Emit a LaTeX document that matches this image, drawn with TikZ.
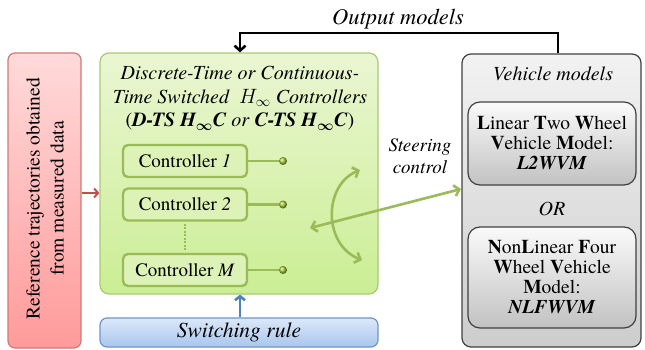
\documentclass[tikz,border=0pt]{standalone}
\usepackage{amsmath}
\usepackage{fontspec}
\setmainfont{TeX Gyre Termes}
\usetikzlibrary{arrows.meta,shapes.geometric}
\definecolor{redfillT}{HTML}{FFDADA}
\definecolor{redfillB}{HTML}{FF9A9A}
\definecolor{redline}{HTML}{D07A78}
\definecolor{redarrow}{HTML}{C0504D}
\definecolor{grnT}{HTML}{EAF6D2}
\definecolor{grnB}{HTML}{CBEE94}
\definecolor{grnline}{HTML}{9BBB59}
\definecolor{grnline2}{HTML}{A9C878}
\definecolor{grndot}{HTML}{A6CC3A}
\definecolor{bluT}{HTML}{DCE8F8}
\definecolor{bluB}{HTML}{A8C6EE}
\definecolor{bluline}{HTML}{6F95C8}
\definecolor{bluarrow}{HTML}{4F81BD}
\definecolor{gryT}{HTML}{F2F2F2}
\definecolor{gryB}{HTML}{CDCDCD}
\definecolor{gryline}{HTML}{404040}
\definecolor{inT}{HTML}{FAFAFA}
\definecolor{inB}{HTML}{C2C2C2}
\tikzset{
  redbox/.style={draw=redline,line width=1.2pt,rounded corners=7pt,top color=redfillT,bottom color=redfillB,minimum width=73pt,minimum height=295pt,inner sep=0pt},
  grnbox/.style={draw=grnline2,line width=1.2pt,rounded corners=9pt,top color=grnT,bottom color=grnB,minimum width=278pt,minimum height=241pt,inner sep=0pt},
  ctrlbox/.style={draw=grnline,line width=2.4pt,rounded corners=5pt,fill=grnT!55!grnB,minimum width=124pt,minimum height=32pt,inner sep=0pt,font=\fontsize{19}{22}\selectfont},
  blubox/.style={draw=bluline,line width=1.2pt,rounded corners=7pt,top color=bluT,bottom color=bluB,minimum width=278pt,minimum height=29pt,inner sep=0pt,font=\fontsize{21.5}{24}\selectfont\itshape},
  grybox/.style={draw=gryline,line width=1.2pt,rounded corners=9pt,top color=gryT,bottom color=gryB,minimum width=179pt,minimum height=293pt,inner sep=0pt},
  innbox/.style={draw=gryline,line width=1.2pt,rounded corners=12pt,top color=inT,bottom color=inB,minimum width=168pt,inner sep=0pt,align=center,font=\fontsize{19.5}{20}\selectfont},
  dotball/.style={circle,inner sep=0pt,minimum size=8pt,ball color=grndot},
  grnarrows/.style={draw=grnline,line width=2.6pt,{Straight Barb[length=5pt,width=11pt]}-{Straight Barb[length=5pt,width=11pt]}},
  ctrlline/.style={draw=grnline,line width=2.4pt},
  txt/.style={inner sep=0pt,align=center}
}
\begin{document}
\begin{tikzpicture}[x=1pt,y=-1pt]
\useasboundingbox (0,0) rectangle (645,350);
% boxes
\node[redbox] (ref) at (44.5,200.5) {};
\node[txt,rotate=90,font=\fontsize{19.5}{24}\selectfont] (reftxt) at (45,198.5) {Reference trajectories obtained\\from measured data};
\node[grnbox] (ctrl) at (239,173.5) {};
\node[txt,font=\fontsize{20}{23.5}\selectfont\itshape] (title) at (240,98.5)
  {Discrete-Time or Continuous-\\Time Switched \ $H_\infty$ Controllers\\\upshape(\textbf{\textit{D-TS H$_{\boldsymbol\infty}$C}} \textit{or} \textbf{\textit{C-TS H$_{\boldsymbol\infty}$C}})};
\node[ctrlbox] (c1) at (185,161) {Controller \textit{1}};
\node[ctrlbox] (c2) at (185,204.5) {Controller \textit{2}};
\node[ctrlbox] (cm) at (185,270) {Controller \textit{M}};
\node[dotball] (d1) at (283,161) {};
\node[dotball] (d2) at (283,204.5) {};
\node[dotball] (dm) at (283,270) {};
\draw[ctrlline] (c1.east) -- (d1.west);
\draw[ctrlline] (c2.east) -- (d2.west);
\draw[ctrlline] (cm.east) -- (dm.west);
\draw[draw=grnline,line width=2.2pt,dash pattern=on 2pt off 1.5pt] ([yshift=-2pt]c2.south) -- ([yshift=2pt]cm.north);
\node[blubox] (sw) at (239,332.5) {Switching rule};
\node[grybox] (veh) at (551.5,200.5) {};
\node[txt,font=\fontsize{20}{22}\selectfont\itshape] (vehtxt) at (553,74) {Vehicle models};
\node[innbox,minimum height=83pt] (l2) at (552,143.5)
  {\textbf{L}inear \textbf{T}wo \textbf{W}heel\\\textbf{V}ehicle \textbf{M}odel:\\\textbf{\textit{L2WVM}}};
\node[txt,font=\fontsize{20}{22}\selectfont\itshape] (or) at (552,209) {OR};
\node[innbox,minimum height=101pt] (nl) at (552,277.5)
  {\textbf{N}on\textbf{L}inear \textbf{F}our\\\textbf{W}heel \textbf{V}ehicle\\\textbf{M}odel:\\\textbf{\textit{NLFWVM}}};
\node[txt,font=\fontsize{19}{22}\selectfont\itshape] (steer) at (420,156) {Steering\\control};
\node[txt,font=\fontsize{22.5}{24}\selectfont\itshape] (out) at (398,19) {Output models};
% connectors
\draw[draw=redarrow,line width=2pt,-{Straight Barb[length=4pt,width=9pt]}] (ref.east |- 0,193) -- (ctrl.west |- 0,193);
\draw[draw=bluarrow,line width=2.6pt,-{Straight Barb[length=4pt,width=10pt]}] (sw.north -| 240,0) -- (ctrl.south -| 240,0);
\draw[draw=black,line width=2.6pt,-{Straight Barb[length=5pt,width=11pt]}] (veh.north -| 558,0) -- (558,33) -- (240,33) -- (ctrl.north -| 240,0);
\coordinate (stail) at (310,228);
\coordinate (stip) at (461,189);
\coordinate (atop) at (360,170);
\coordinate (abot) at (362,260);
\draw[grnarrows] (stail) -- (stip);
\draw[grnarrows] (atop) .. controls (323,185) and (323,245) .. (abot);
\end{tikzpicture}
\end{document}
